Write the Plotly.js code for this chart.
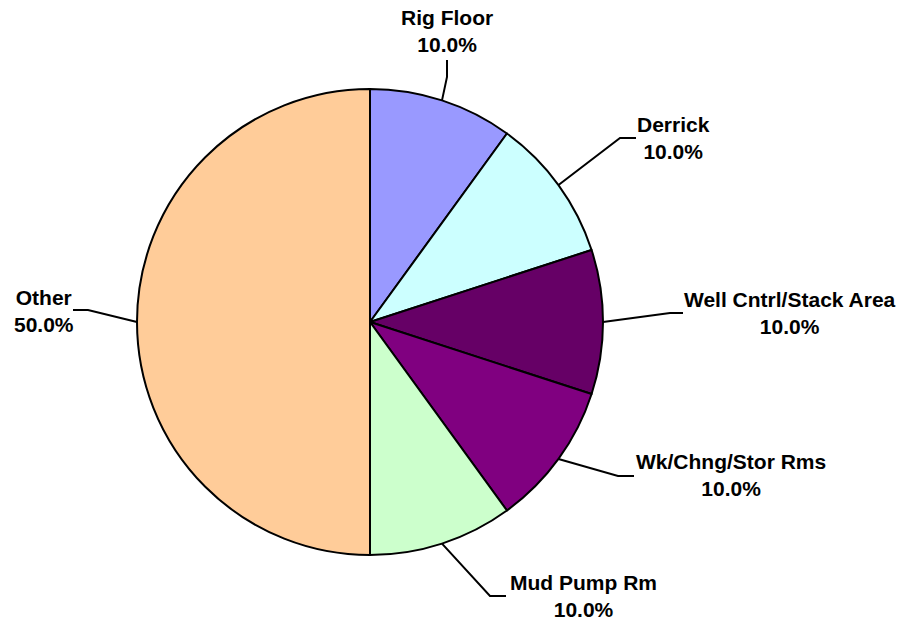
<!DOCTYPE html>
<html>
<head>
<meta charset="utf-8">
<script src="https://cdn.plot.ly/plotly-3.0.1.min.js"></script>
<style>html,body{margin:0;padding:0;background:#fff}#chart{width:902px;height:621px}</style>
</head>
<body>
<div id="chart"></div>
<script>
// ---- data ----
const labels = ['Rig Floor', 'Derrick', 'Well Cntrl/Stack Area', 'Wk/Chng/Stor Rms', 'Mud Pump Rm', 'Other'];
const values = [10, 10, 10, 10, 10, 50];
const colors = ['#9999FF', '#CCFFFF', '#660066', '#800080', '#CCFFCC', '#FFCC99'];

// ---- layout (label placement in pixels) ----
const W = 902, H = 621;
const M = {l: 137, r: 299, t: 89, b: 66};
const labelCenter = [[447, 31], [673, 138], [790, 313], [731, 475], [583, 596], [44, 311]];
const leaderBend  = [[447, 77], [620, 138], [670, 313], [618, 476], [490, 596], [88, 310]];
const leaderEnd   = [[447, 60], [636, 138], [683, 313], [634, 476], [506, 596], [73, 310]];

const pw = W - M.l - M.r, ph = H - M.t - M.b;
const cx = M.l + pw / 2, cy = M.t + ph / 2, R = Math.min(pw, ph) / 2;
const px2x = p => (p - M.l) / pw;
const py2y = p => (H - M.b - p) / ph;

const total = values.reduce((a, b) => a + b, 0);
const annotations = [], shapes = [];
let cum = 0;
values.forEach((v, i) => {
  const mid = (cum + v / 2) / total * 2 * Math.PI;
  cum += v;
  const ex = cx + R * Math.sin(mid), ey = cy - R * Math.cos(mid);
  const pct = (v / total * 100).toFixed(1) + '%';
  annotations.push({
    xref: 'paper', yref: 'paper',
    x: px2x(labelCenter[i][0]), y: py2y(labelCenter[i][1]),
    xanchor: 'center', yanchor: 'middle', showarrow: false,
    text: '<b>' + labels[i] + '</b><br><b>' + pct + '</b>',
    font: {family: 'Liberation Sans, Arial, sans-serif', size: 21, color: '#000'}
  });
  shapes.push({
    type: 'path', xref: 'paper', yref: 'paper',
    path: 'M ' + px2x(ex) + ' ' + py2y(ey) +
          ' L ' + px2x(leaderBend[i][0]) + ' ' + py2y(leaderBend[i][1]) +
          ' L ' + px2x(leaderEnd[i][0]) + ' ' + py2y(leaderEnd[i][1]),
    line: {color: '#000', width: 2}
  });
});

const trace = {
  type: 'pie',
  labels: labels,
  values: values,
  sort: false,
  direction: 'clockwise',
  rotation: 0,
  textinfo: 'none',
  hoverinfo: 'label+percent',
  marker: {colors: colors, line: {color: '#000', width: 2}},
  domain: {x: [0, 1], y: [0, 1]}
};

Plotly.newPlot('chart', [trace], {
  width: W, height: H,
  margin: M,
  showlegend: false,
  paper_bgcolor: '#fff',
  annotations: annotations,
  shapes: shapes
}, {displayModeBar: false, staticPlot: true});
</script>
</body>
</html>
